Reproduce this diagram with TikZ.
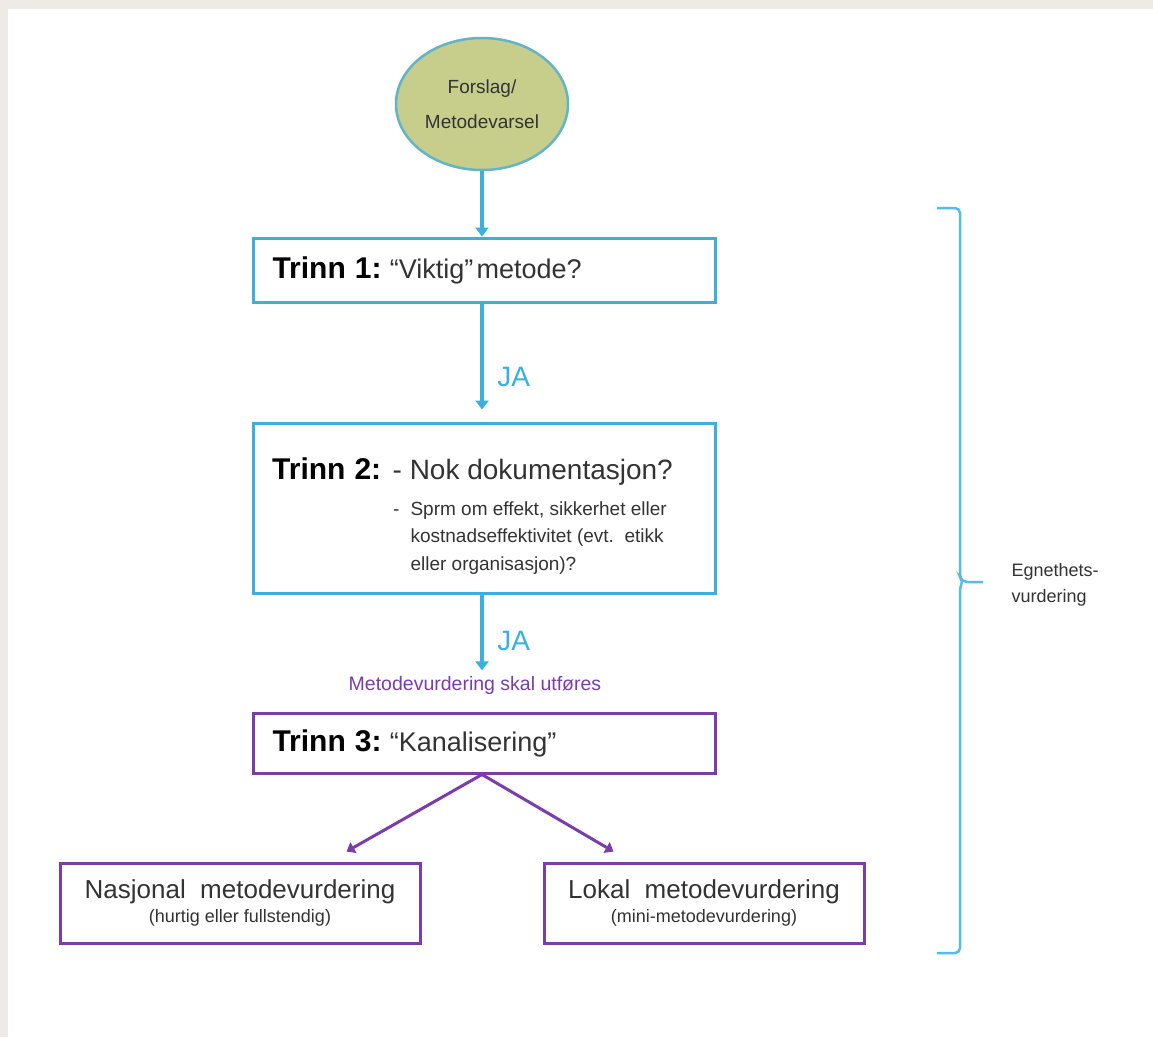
\documentclass[tikz,border=0pt]{standalone}
\usepackage{fontspec}
\setmainfont{Liberation Sans}
\usetikzlibrary{positioning, calc, arrows.meta, shapes.geometric}

\definecolor{trinnblue}{HTML}{3AB0DE}
\definecolor{trinnpurple}{HTML}{7A3DAA}
\definecolor{forslagfill}{HTML}{C7CE8B}
\definecolor{forslagline}{HTML}{62B5C8}
\definecolor{bggray}{HTML}{EEEBE7}
\definecolor{textgray}{HTML}{333333}

\newcommand{\trinn}[1]{{\fontsize{30}{34}\selectfont\bfseries\color{black}Trinn\hspace{0.3em}#1:}}

\begin{document}
\begin{tikzpicture}[x=1pt, y=-1pt,
	trinnbox/.style={draw=trinnblue, line width=3pt, fill=white, minimum width=462pt, inner xsep=19pt, text width=424pt, align=left, text=textgray},
	kanalbox/.style={trinnbox, draw=trinnpurple},
	utfallbox/.style={draw=trinnpurple, line width=3pt, fill=white, minimum height=80pt, align=center, text=textgray},
	blueflow/.style={draw=trinnblue, line width=4pt, -{Triangle[width=13pt,length=9pt]}},
	purpleflow/.style={draw=trinnpurple, line width=3pt, -{Triangle[width=12pt,length=8pt]}},
	jalabel/.style={text=trinnblue, font=\fontsize{28}{30}\selectfont}]

	% bakgrunn
	\fill[bggray] (0,0) rectangle (1153,1037);
	\fill[white] (8,9) rectangle (1153,1037);

	\node[ellipse, draw=forslagline, line width=2.5pt, fill=forslagfill, minimum width=172pt, minimum height=132pt, align=center, font=\fontsize{19}{35}\selectfont, text=textgray] (forslag) at (482,104) {Forslag/\\Metodevarsel};

	\node[trinnbox, minimum height=64pt] (t1) at (484.5,270) {\trinn{1} {\fontsize{27}{34}\selectfont\ “Viktig”\ metode?}};

	\node[trinnbox, minimum height=170pt] (t2) at (484.5,508) {};
	\node[anchor=base west, inner sep=0pt, text=textgray] (t2head) at (272,479) {\trinn{2} {\fontsize{28}{34}\selectfont\ - Nok dokumentasjon?}};
	\node[anchor=base west, inner sep=0pt, text=textgray, font=\fontsize{19}{27.5}\selectfont] (t2sub) at (393,515) {\begin{tabular}[t]{@{}l@{\hspace{11pt}}l@{}}
		-&Sprm om effekt, sikkerhet eller\\
		&kostnadseffektivitet (evt.\ \ etikk\\
		&eller organisasjon)?
	\end{tabular}};

	\node[text=trinnpurple, font=\fontsize{19.5}{22}\selectfont] (utfores) at (475,685) {Metodevurdering skal utføres};

	\node[kanalbox, minimum height=60pt] (t3) at (484.5,743) {\trinn{3} {\fontsize{27}{34}\selectfont\ “Kanalisering”}};

	\node[utfallbox, minimum width=360pt] (nasjonal) at (240,903) {{\fontsize{26}{28}\selectfont Nasjonal\ \ metodevurdering}\\[5pt]{\fontsize{18}{22}\selectfont (hurtig eller fullstendig)}};
	\node[utfallbox, minimum width=320pt] (lokal) at (704,903) {{\fontsize{26}{28}\selectfont Lokal\ \ metodevurdering}\\[5pt]{\fontsize{18}{22}\selectfont (mini-metodevurdering)}};

	% piler
	\draw[blueflow] (forslag.south) -- (forslag.south |- t1.north);
	\draw[blueflow, shorten >=12pt] (t1.south -| forslag) -- node[jalabel, pos=0.62, right=10pt] (ja1) {JA} (t2.north -| forslag);
	\draw[blueflow, shorten >=2pt] (t2.south -| forslag) -- node[jalabel, pos=0.6, right=10pt] (ja2) {JA} (utfores.north -| forslag);
	\draw[purpleflow] (t3.south -| forslag) -- ($(nasjonal.north east)+(-75,-10)$);
	\draw[purpleflow] (t3.south -| forslag) -- ($(lokal.north west)+(71,-10)$);

	% klamme
	\draw[trinnblue!85!white, line width=2.5pt, rounded corners=5pt] (937,208) -- (960,208) -- (960,577) -- (962,582) -- (983,582);
	\draw[trinnblue!85!white, line width=2.5pt, rounded corners=5pt] (962,582) -- (960,587) -- (960,953) -- (937,953);
	\node[anchor=west, align=left, text=textgray, font=\fontsize{18}{26}\selectfont] (egnethet) at (1008,585) {Egnethets-\\vurdering};

\end{tikzpicture}
\end{document}
